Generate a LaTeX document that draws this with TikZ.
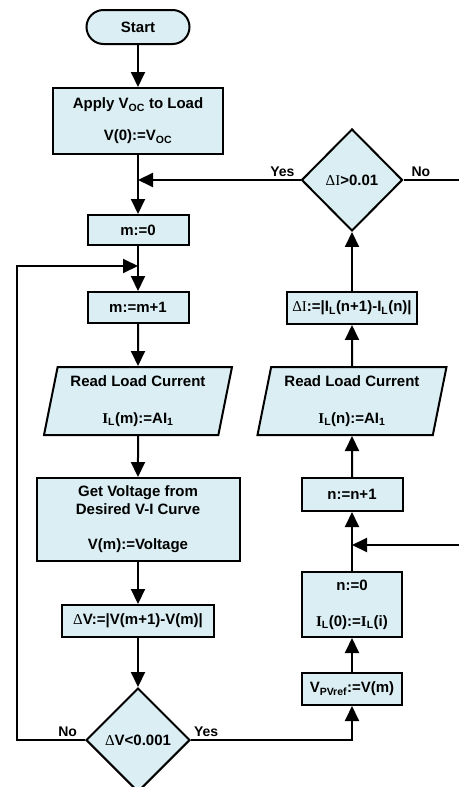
\documentclass[tikz,border=0pt]{standalone}
\usepackage{fontspec}
\setmainfont{Liberation Sans}
\newfontfamily\serif{Liberation Serif}
\usetikzlibrary{shapes,positioning,calc,arrows.meta}
\definecolor{boxblue}{HTML}{DAEEF3}
\newcommand{\IL}{{\serif I}\textsubscript{L}}
\newcommand{\dlt}{{\serif\mdseries Δ}}

\begin{document}
\begin{tikzpicture}
  [x=1pt,y=1pt,
   every node/.style={font=\fontsize{15}{18}\selectfont\bfseries},
   box/.style={rectangle,draw,fill=boxblue,line width=2pt,inner sep=0pt,align=center},
   term/.style={rounded rectangle,draw,fill=boxblue,line width=2pt,inner sep=0pt,
     minimum width=103pt,minimum height=34pt},
   io/.style={trapezium,trapezium left angle=75,trapezium right angle=105,
     trapezium stretches body,draw,fill=boxblue,line width=2pt,inner sep=0pt,
     align=center,minimum width=188pt,minimum height=68pt},
   decision/.style={diamond,draw,fill=boxblue,line width=2pt,inner sep=0pt,aspect=1},
   lbl/.style={font=\fontsize{14}{16}\selectfont\bfseries,inner sep=2pt},
   flow/.style={line width=2pt,-{Triangle[length=15pt,width=14pt]}},
   line/.style={line width=2pt}]

  \useasboundingbox (0,0) rectangle (459,-787);

  \node[term] (start) at (138,-27) {Start};
  \node[box,minimum width=170pt,minimum height=66pt] (apply) [below=42pt of start]
    {Apply V\textsubscript{OC} to Load\\[14pt] V(0):=V\textsubscript{OC}};
  \node[box,minimum width=101pt,minimum height=30pt] (m0) [below=59pt of apply] {m:=0};
  \node[box,minimum width=101pt,minimum height=31pt] (mm1) [below=45pt of m0] {m:=m+1};
  \node[io] (read1) [below=42pt of mm1] {Read Load Current\\[19pt] \IL(m):=AI\textsubscript{1}};
  \node[box,minimum width=203pt,minimum height=83pt] (get) [below=41pt of read1]
    {Get Voltage from\\ Desired V-I Curve\\[17pt] V(m):=Voltage};
  \node[box,minimum width=152pt,minimum height=32pt] (dV) [below=42pt of get]
    {\dlt V:=|V(m+1)-V(m)|};
  \node[decision,minimum width=104pt,minimum height=104pt] (dVd) [below=49pt of dV]
    {\dlt V<0.001};

  \node[box,minimum width=100pt,minimum height=32pt] (vref) at (352,-689)
    {V\textsubscript{PVref}:=V(m)};
  \node[box,minimum width=100pt,minimum height=65pt] (n0) [above=34pt of vref]
    {n:=0\\[18pt] \IL(0):=\IL(i)};
  \node[box,minimum width=101pt,minimum height=33pt] (nn1) [above=59pt of n0] {n:=n+1};
  \node[io,minimum width=189pt] (read2) [above=41pt of nn1]
    {Read Load Current\\[19pt] \IL(n):=AI\textsubscript{1}};
  \node[box,minimum width=130pt,minimum height=32pt] (dI) [above=41pt of read2]
    {{\serif\mdseries ΔI}:=|I\textsubscript{L}(n+1)-I\textsubscript{L}(n)|};
  \node[decision,minimum width=101pt,minimum height=102pt] (dId) [above=59pt of dI]
    {{\serif\mdseries ΔI}>0.01};

  \coordinate (j1) at (apply.south |- dId.west);
  \coordinate (j3) at ($(m0.south)+(0,-20)$);
  \coordinate (lc) at ($(dVd.west)+(-68,0)$);
  \coordinate (inR) at (459,-545);
  \coordinate (outR) at (dId.east -| inR);
  \coordinate (j2) at (n0.north |- inR);

  \draw[flow] (start) -- (apply);
  \draw[flow] (apply) -- (m0);
  \draw[flow] (m0) -- (mm1);
  \draw[flow] (mm1) -- (read1);
  \draw[flow] (read1) -- (get);
  \draw[flow] (get) -- (dV);
  \draw[flow] (dV) -- (dVd);
  \draw[flow] (dVd.west) -- node[lbl,pos=0,anchor=south east,xshift=-5pt]{No} (lc) |- (j3);
  \draw[flow] (dVd.east) -| node[lbl,pos=0,anchor=south west]{Yes} (vref);
  \draw[flow] (vref) -- (n0);
  \draw[flow] (n0) -- (nn1);
  \draw[flow] (nn1) -- (read2);
  \draw[flow] (read2) -- (dI);
  \draw[flow] (dI) -- (dId);
  \draw[flow] (dId.west) -- node[lbl,pos=0,anchor=south east,xshift=-3pt]{Yes} (j1);
  \draw[line] (dId.east) -- node[lbl,pos=0,anchor=south west,xshift=5pt]{No} (outR);
  \draw[flow] (inR) -- (j2);
\end{tikzpicture}
\end{document}
